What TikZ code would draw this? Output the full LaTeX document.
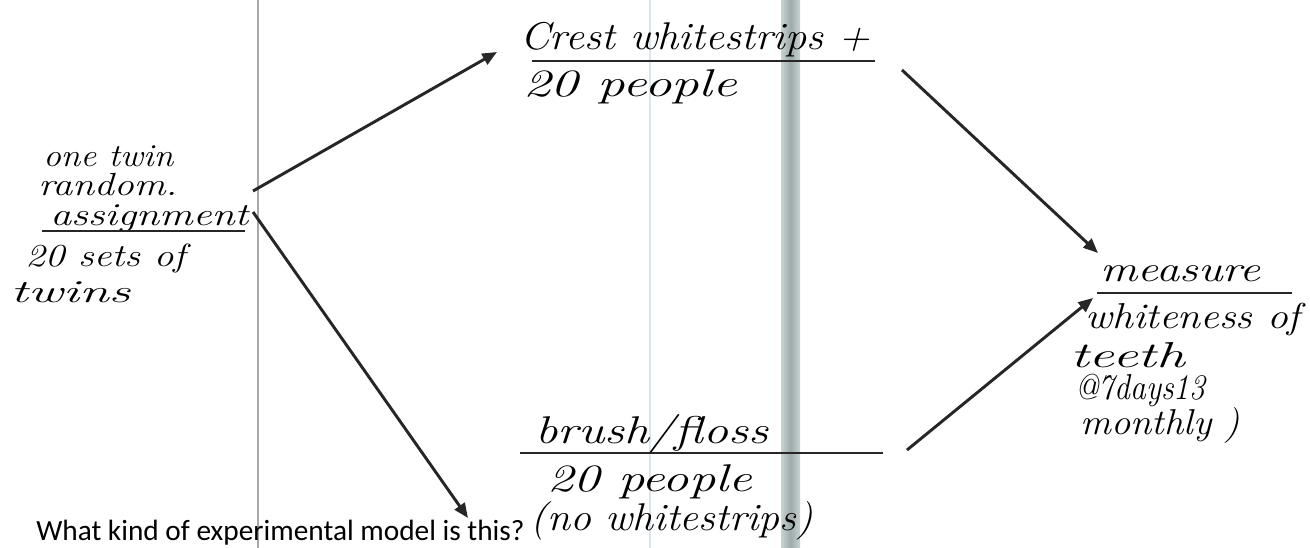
\documentclass[tikz,border=0pt]{standalone}
\usepackage{fontspec}
\usepackage{graphicx}
\newfontfamily\capfont{Carlito}
\usetikzlibrary{arrows.meta}
\definecolor{rulegray}{HTML}{A8A8A8}
\definecolor{ruleblue}{HTML}{DCE6EE}
\definecolor{bandedge}{HTML}{C9D2D2}
\definecolor{bandmid}{HTML}{9EABAB}
% stretch a handwritten line to a width given in px (1px = 0.75pt)
\newcommand{\hwline}[2]{\resizebox{#1\dimexpr 0.75pt\relax}{\height}{#2}}
\tikzset{
  hand/.style={inner sep=0pt, anchor=west, font=\fontsize{24}{26}\selectfont\itshape},
  handL/.style={hand, font=\fontsize{29}{31}\selectfont\itshape},
  handM/.style={hand, font=\fontsize{27}{29}\selectfont\itshape},
  capt/.style={inner sep=0pt, anchor=base west, font=\capfont\fontsize{22}{24}\selectfont},
  uline/.style={line width=1.5pt, black!85},
  arr/.style={line width=2.2pt, black!85, -{Triangle[length=11pt,width=9pt]}},
}
\begin{document}
\begin{tikzpicture}[x=0.75pt,y=-0.75pt]
\useasboundingbox (0,0) rectangle (1310,548);
\fill[white] (0,0) rectangle (1310,548);
% page rules
\draw[rulegray, line width=1.5pt] (258,0) -- (258,548);
\draw[ruleblue, line width=1.5pt] (650,0) -- (650,548);
\shade[left color=bandedge, right color=bandedge, middle color=bandmid] (781,0) rectangle (800,548);
% left group
\node[hand] (l1) at (43,156) {\hwline{130}{one twin}};
\node[hand] (l2) at (38,185) {\hwline{139}{random.}};
\node[hand] (l3) at (50,218) {\hwline{198}{assignment}};
\draw[uline] (42,231) -- (245,231);
\node[hand] (l4) at (25,259) {\hwline{160}{20 sets of}};
\node[hand] (l5) at (10,292) {\hwline{120}{twins}};
% top group
\node[handL] (t1) at (520,40) {\hwline{350}{Crest whitestrips +}};
\draw[uline] (532,61) -- (875,61);
\node[handL] (t2) at (523,87) {\hwline{214}{20 people}};
% bottom group
\node[handL] (b1) at (535,434) {\hwline{233}{brush/floss}};
\draw[uline] (520,453) -- (883,453);
\node[handL] (b2) at (547,482) {\hwline{205}{20 people}};
\node[handL] (b3) at (530,521) {\hwline{283}{(no whitestrips)}};
% right group
\node[handM] (r1) at (1100,274) {\hwline{160}{measure}};
\draw[uline] (1097,293) -- (1292,293);
\node[handM] (r2) at (1085,320) {\hwline{215}{whiteness of}};
\node[handM] (r3) at (1070,355) {\hwline{115}{teeth}};
\node[handM] (r4) at (1075,391) {\hwline{130}{@7days13}};
\node[handM] (r5) at (1080,426) {\hwline{160}{monthly )}};
% arrow ends
\coordinate (ls1) at (253,191);
\coordinate (ls2) at (253,212);
\coordinate (te) at (497,52);
\coordinate (be) at (468,518);
\coordinate (ts) at (902,70);
\coordinate (bs) at (907,450);
\coordinate (re1) at (1098,253);
\coordinate (re2) at (1093,298);
\draw[arr] (ls1) -- (te);
\draw[arr] (ls2) -- (be);
\draw[arr] (ts) -- (re1);
\draw[arr] (bs) -- (re2);
% caption
\node[capt] (cap) at (36,541) {What kind of experimental model is this?};
\end{tikzpicture}
\end{document}
